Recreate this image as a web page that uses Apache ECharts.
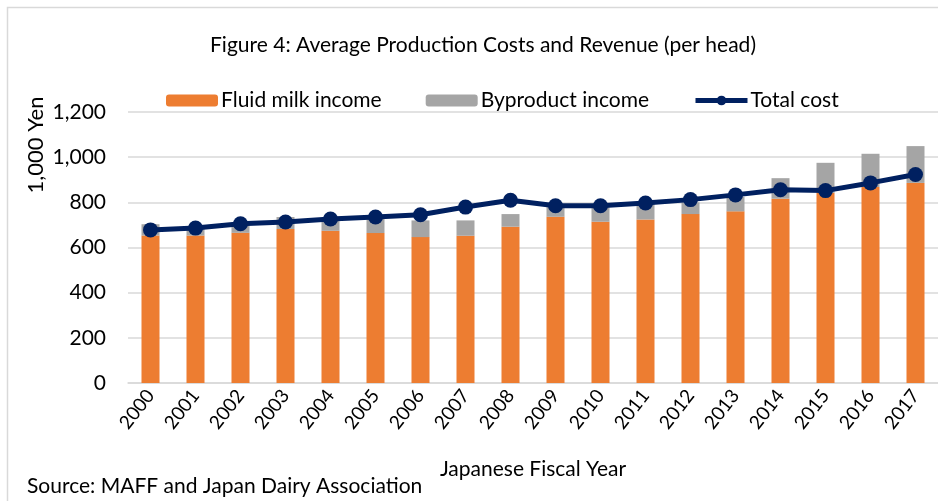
<!DOCTYPE html>
<html>
<head>
<meta charset="utf-8">
<style>
  html, body { margin: 0; padding: 0; background: #fff; }
  #chart { width: 938px; height: 501px; }
</style>
</head>
<body>
<div id="chart"></div>
<script src="https://cdn.jsdelivr.net/npm/echarts@6/dist/echarts.min.js"></script>
<script type="text/javascript">
var years = ['2000', '2001', '2002', '2003', '2004', '2005', '2006', '2007', '2008',
             '2009', '2010', '2011', '2012', '2013', '2014', '2015', '2016', '2017'];
var fluidMilk = [653, 653, 665, 682, 674, 664, 646, 652, 692,
                 736, 714, 724, 748, 760, 816, 842, 868, 886];
var byproduct = [50, 38, 42, 53, 56, 76, 74, 68, 56,
                 50, 70, 70, 52, 64, 91, 133, 147, 163];
var totalCost = [678, 686, 705, 713, 726, 735, 745, 779, 809,
                 785, 785, 797, 812, 833, 856, 852, 886, 923];
var yTicks = [0, 200, 400, 600, 800, 1000, 1200];

var font = 'Lato';
var chart = echarts.init(document.getElementById('chart'));

var option = {
    animation: false,
    textStyle: { fontFamily: font },
    title: {
        text: 'Figure 4: Average Production Costs and Revenue (per head)',
        left: 478,
        top: 30,
        textAlign: 'center',
        textStyle: { fontFamily: font, fontSize: 21, fontWeight: 'normal', color: '#000' }
    },
    legend: {
        top: 85,
        left: 161,
        itemWidth: 52,
        itemHeight: 12,
        itemGap: 44,
        textStyle: { fontFamily: font, fontSize: 21, color: '#000', padding: [0, 0, 0, -2] },
        data: [
            'Fluid milk income',
            'Byproduct income',
            { name: 'Total cost', itemStyle: { color: '#002060' }, lineStyle: { width: 5, color: '#002060' } }
        ]
    },
    grid: { left: 128, right: 0, top: 112, bottom: 118 },
    xAxis: {
        type: 'category',
        data: years,
        name: 'Japanese Fiscal Year',
        nameLocation: 'middle',
        nameGap: 76,
        nameTextStyle: { fontFamily: font, fontSize: 21, color: '#000' },
        axisTick: { show: false },
        axisLine: { lineStyle: { color: '#d9d9d9', width: 1.5 } },
        axisLabel: { rotate: 52, fontFamily: font, fontSize: 19, color: '#000', margin: 9 }
    },
    yAxis: {
        type: 'value',
        min: yTicks[0],
        max: yTicks[yTicks.length - 1],
        interval: 200,
        axisLine: { show: false },
        axisTick: { show: false },
        splitLine: { lineStyle: { color: '#d9d9d9', width: 1.5 } },
        axisLabel: {
            fontFamily: font, fontSize: 21, color: '#000', margin: 22,
            formatter: function (v) { return v.toLocaleString('en-US'); }
        }
    },
    graphic: [
        {
            type: 'rect',
            left: 5, top: 5,
            shape: { width: 960, height: 520 },
            style: { fill: 'none', stroke: '#d9d9d9', lineWidth: 1.5 },
            silent: true
        },
        {
            type: 'text',
            x: 36, y: 145,
            rotation: Math.PI / 2,
            style: {
                text: '1,000 Yen', font: '22px ' + font, fill: '#000',
                textAlign: 'center', textVerticalAlign: 'middle'
            }
        },
        {
            type: 'text',
            left: 27, top: 476,
            style: { text: 'Source: MAFF and Japan Dairy Association', font: '21px ' + font, fill: '#000' }
        }
    ],
    series: [
        {
            name: 'Fluid milk income',
            type: 'bar',
            stack: 'income',
            barWidth: 18,
            itemStyle: { color: '#ed7d31' },
            data: fluidMilk
        },
        {
            name: 'Byproduct income',
            type: 'bar',
            stack: 'income',
            barWidth: 18,
            itemStyle: { color: '#a5a5a5' },
            data: byproduct
        },
        {
            name: 'Total cost',
            type: 'line',
            symbol: 'circle',
            symbolSize: 15,
            lineStyle: { color: '#002060', width: 5 },
            itemStyle: { color: '#002060' },
            data: totalCost
        }
    ]
};

chart.setOption(option);
</script>
</body>
</html>
